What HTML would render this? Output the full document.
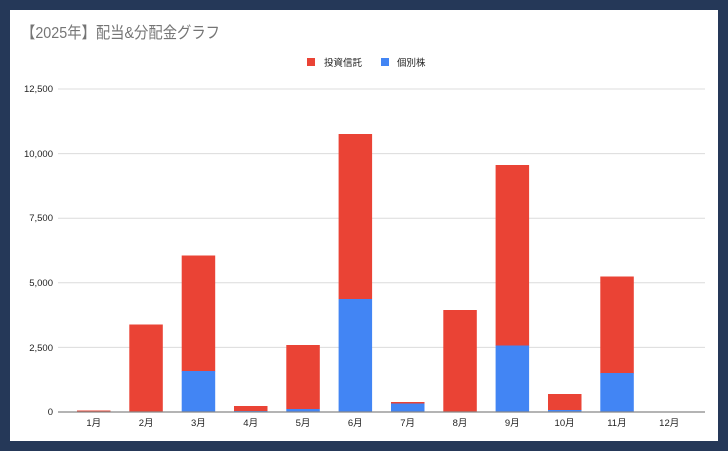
<!DOCTYPE html>
<html><head><meta charset="utf-8"><style>
html,body{margin:0;padding:0;background:#253858;}
svg{display:block;}
text{font-family:"Liberation Sans","Noto Sans CJK JP",sans-serif;}
</style></head><body>
<svg width="728" height="451" viewBox="0 0 728 451" xmlns="http://www.w3.org/2000/svg">
<rect x="0" y="0" width="728" height="451" fill="#253858"/>
<rect x="10" y="10" width="708" height="431" fill="#ffffff"/>
<text x="21" y="38" font-size="16" fill="#757575" textLength="199" lengthAdjust="spacingAndGlyphs">【2025年】配当&amp;分配金グラフ</text>
<rect x="307" y="58" width="8" height="8" fill="#ea4335"/>
<text x="324" y="66" font-size="9.5" fill="#222">投資信託</text>
<rect x="381" y="58" width="8" height="8" fill="#4285f4"/>
<text x="397" y="66" font-size="9.5" fill="#222">個別株</text>
<g stroke="#dcdcdc" stroke-width="1">
<line x1="58" y1="89" x2="705" y2="89"/>
<line x1="58" y1="153.6" x2="705" y2="153.6"/>
<line x1="58" y1="218.2" x2="705" y2="218.2"/>
<line x1="58" y1="282.8" x2="705" y2="282.8"/>
<line x1="58" y1="347.4" x2="705" y2="347.4"/>
</g>
<g font-size="9.5" fill="#222" text-anchor="end">
<text x="53" y="92">12,500</text>
<text x="53" y="157">10,000</text>
<text x="53" y="221">7,500</text>
<text x="53" y="286">5,000</text>
<text x="53" y="351">2,500</text>
<text x="53" y="415">0</text>
</g>
<g>
<rect x="77" y="410.5" width="33.5" height="1.5" fill="#ea4335"/>
<rect x="129.3" y="324.5" width="33.5" height="87.5" fill="#ea4335"/>
<rect x="181.7" y="255.5" width="33.5" height="116" fill="#ea4335"/>
<rect x="181.7" y="371" width="33.5" height="41" fill="#4285f4"/>
<rect x="234" y="406" width="33.5" height="6" fill="#ea4335"/>
<rect x="234" y="411" width="33.5" height="1" fill="#4285f4"/>
<rect x="286.3" y="345" width="33.5" height="64" fill="#ea4335"/>
<rect x="286.3" y="409" width="33.5" height="3" fill="#4285f4"/>
<rect x="338.6" y="134" width="33.5" height="165" fill="#ea4335"/>
<rect x="338.6" y="299" width="33.5" height="113" fill="#4285f4"/>
<rect x="391" y="402" width="33.5" height="2" fill="#ea4335"/>
<rect x="391" y="403.5" width="33.5" height="8.5" fill="#4285f4"/>
<rect x="443.3" y="310" width="33.5" height="102" fill="#ea4335"/>
<rect x="495.6" y="165" width="33.5" height="181" fill="#ea4335"/>
<rect x="495.6" y="345.5" width="33.5" height="66.5" fill="#4285f4"/>
<rect x="548" y="394" width="33.5" height="17" fill="#ea4335"/>
<rect x="548" y="410" width="33.5" height="2" fill="#4285f4"/>
<rect x="600.3" y="276.5" width="33.5" height="97" fill="#ea4335"/>
<rect x="600.3" y="373" width="33.5" height="39" fill="#4285f4"/>
</g>
<line x1="58" y1="412" x2="705" y2="412" stroke="#888" stroke-width="1.2"/>
<g font-size="9.5" fill="#222" text-anchor="middle">
<text x="93.8" y="426">1月</text>
<text x="146.1" y="426">2月</text>
<text x="198.4" y="426">3月</text>
<text x="250.7" y="426">4月</text>
<text x="303" y="426">5月</text>
<text x="355.3" y="426">6月</text>
<text x="407.6" y="426">7月</text>
<text x="460" y="426">8月</text>
<text x="512.3" y="426">9月</text>
<text x="564.6" y="426">10月</text>
<text x="616.9" y="426">11月</text>
<text x="669.2" y="426">12月</text>
</g>
</svg>
</body></html>
